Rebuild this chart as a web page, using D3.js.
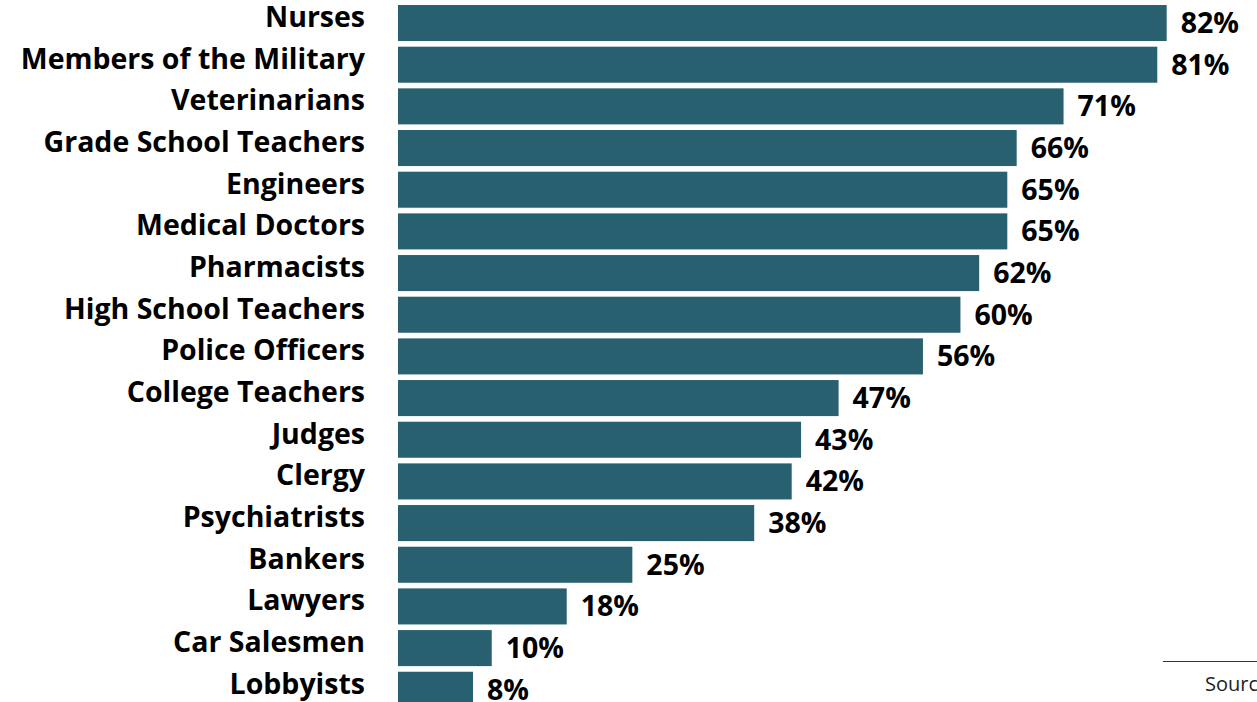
<!DOCTYPE html>
<html>
<head>
<meta charset="utf-8">
<script src="https://cdn.jsdelivr.net/npm/d3@7/dist/d3.min.js"></script>
<style>
  html, body { margin: 0; padding: 0; background: #ffffff; }
  svg { display: block; }
</style>
</head>
<body>
<svg id="chart" width="1257" height="702"></svg>
<script>
// Share of respondents rating each profession's honesty/ethics high
const professions = [
  "Nurses", "Members of the Military", "Veterinarians", "Grade School Teachers",
  "Engineers", "Medical Doctors", "Pharmacists", "High School Teachers",
  "Police Officers", "College Teachers", "Judges", "Clergy", "Psychiatrists",
  "Bankers", "Lawyers", "Car Salesmen", "Lobbyists"
];
const ratings = [82, 81, 71, 66, 65, 65, 62, 60, 56, 47, 43, 42, 38, 25, 18, 10, 8];
const sourceNote = "Source: Gallup";

const svg = d3.select("#chart");
const W = 1257, H = 702;
const barLeft = 398;
const fontFamily = "'Open Sans', 'DejaVu Sans', sans-serif";

const data = professions.map((name, i) => ({ name, value: ratings[i] }));

const x = d3.scaleLinear().domain([0, 100]).range([barLeft, barLeft + 937.4]);
const y = d3.scaleBand()
  .domain(professions)
  .range([2.2, 710.6])
  .paddingInner(0.135)
  .paddingOuter(0.0675);
const mid = d => y(d.name) + y.bandwidth() / 2;

// Bars
svg.append("g")
  .selectAll("rect")
  .data(data)
  .join("rect")
  .attr("x", x(0))
  .attr("y", d => y(d.name))
  .attr("width", d => x(d.value) - x(0))
  .attr("height", y.bandwidth())
  .attr("fill", "#29606f");

// Category labels (baseline set just below the bar's middle)
svg.append("g")
  .selectAll("text")
  .data(data)
  .join("text")
  .attr("x", 365)
  .attr("y", d => mid(d) + 4)
  .attr("text-anchor", "end")
  .attr("font-family", fontFamily)
  .attr("font-weight", 700)
  .attr("font-size", 28.5)
  .attr("fill", "#000")
  .text(d => d.name);

// Value labels
svg.append("g")
  .selectAll("text")
  .data(data)
  .join("text")
  .attr("x", d => x(d.value) + 14)
  .attr("y", d => mid(d) + 10)
  .attr("font-family", fontFamily)
  .attr("font-weight", 700)
  .attr("font-size", 28.5)
  .attr("fill", "#000")
  .text(d => d.value + "%");

// Source note with rule above it
svg.append("line")
  .attr("x1", 1163).attr("x2", W)
  .attr("y1", 661.5).attr("y2", 661.5)
  .attr("stroke", "#333")
  .attr("stroke-width", 1);

svg.append("text")
  .attr("x", 1205)
  .attr("y", 691)
  .attr("font-family", fontFamily)
  .attr("font-size", 20)
  .attr("fill", "#222")
  .text(sourceNote);
</script>
</body>
</html>
